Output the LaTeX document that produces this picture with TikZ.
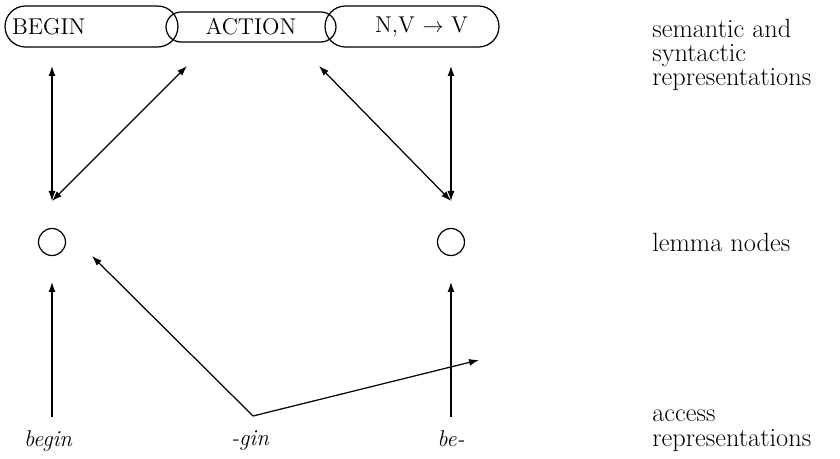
\documentclass[tikz,border=0pt]{standalone}
\usepackage{amsmath}
\usepackage{tikz}
\usetikzlibrary{positioning,arrows.meta}

\tikzset{
  box/.style={draw, line width=0.7pt, rounded corners=0.41cm, minimum height=0.82cm,
    inner xsep=0.14cm, inner ysep=0pt, font=\fontsize{13}{15}\selectfont},
  lemma/.style={draw, circle, line width=0.7pt, minimum size=0.54cm, inner sep=0pt},
  link/.style={line width=0.7pt, -{Latex[length=2mm,width=1.4mm]}},
  twoway/.style={line width=0.7pt, {Latex[length=2mm,width=1.4mm]}-{Latex[length=2mm,width=1.4mm]}},
  word/.style={font=\fontsize{13}{15}\selectfont\itshape, anchor=base, inner sep=0pt},
  level/.style={font=\fontsize{15}{13.9}\selectfont, align=left, inner sep=0pt}
}

\begin{document}
\begin{tikzpicture}[x=0.02cm,y=-0.02cm]
\useasboundingbox (0,0) rectangle (840,459);

\node[box, rounded corners=0.3cm, minimum height=0.6cm, minimum width=3.4cm] (action) at (251,27) {ACTION};
\node[box, text width=3.18cm, align=left] (begin) at (91.5,26.5) {BEGIN};
\node[box, text width=2.24cm, align=right, inner xsep=0.62cm] (nvv) at (412,26.5) {N,V $\rightarrow$ V};

\node[lemma] (lemL) at (52,242) {};
\node[lemma] (lemR) at (451,242) {};

\node[word] (wBegin) at (48,447) {begin};
\node[word] (wGin) at (250,446) {-gin};
\node[word] (wBe) at (451,447) {be-};

\node[level, anchor=north west] (semsyn) at (652,18.5) {semantic and\\syntactic\\representations};
\node[level, anchor=base west] (lemmas) at (652,251.5) {lemma nodes};
\node[level, anchor=south west] (access) at (652,451.5) {access\\representations};

\coordinate (upBegin) at (52,66);
\coordinate (upActL) at (187,66);
\coordinate (upActR) at (319,66);
\coordinate (upNV) at (451,66);
\coordinate (inL) at (52,201);
\coordinate (inR) at (451,201);
\coordinate (outL) at (52,282);
\coordinate (outR) at (451,282);
\coordinate (accL) at (52,417);
\coordinate (accR) at (451,417);
\coordinate (accGin) at (253,416);
\coordinate (toL) at (92,256);
\coordinate (toR) at (479,360);

\foreach \a/\b in {inL/upBegin, inL/upActL, inR/upActR, inR/upNV}
  \draw[twoway] (\a) -- (\b);
\foreach \a/\b in {accL/outL, accR/outR, accGin/toL, accGin/toR}
  \draw[link] (\a) -- (\b);
\end{tikzpicture}
\end{document}
